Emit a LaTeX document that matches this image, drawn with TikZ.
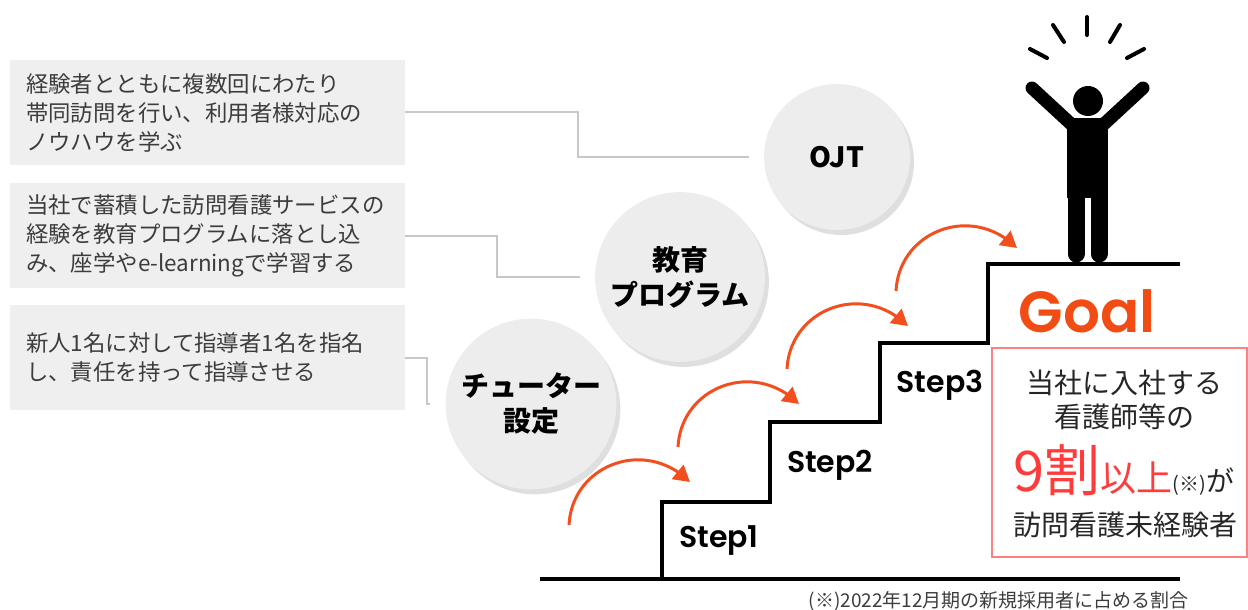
\documentclass[tikz,border=0pt]{standalone}
\usepackage{fontspec}
\setmainfont{Noto Sans CJK JP}
\newfontfamily\stepfont{Poppins}[BoldFont={Poppins SemiBold}]
\usepackage{xcolor}
\usetikzlibrary{calc,bending,arrows.meta,shadows}
\tikzset{>=stealth}

\definecolor{boxgray}{HTML}{EFEFEF}
\definecolor{circlegray}{HTML}{EDEDED}
\definecolor{linkgray}{HTML}{C8C8C8}
\definecolor{textgray}{HTML}{3C3C3C}
\definecolor{hopred}{HTML}{F24E1E}
\definecolor{goalred}{HTML}{F04C14}
\definecolor{hired}{HTML}{FF3B3B}
\definecolor{boxred}{HTML}{FF8080}

\tikzset{
  infobox/.style={fill=boxgray, minimum width=197.5pt, minimum height=52.5pt,
    inner xsep=8pt, text width=181.5pt, align=left, text=textgray,
    font=\fontsize{11.2pt}{14.5pt}\selectfont},
  stepcircle/.style={circle, fill=circlegray, minimum size=73pt, align=center,
    drop shadow={opacity=0.25, shadow xshift=2pt, shadow yshift=-2.5pt},
    font=\bfseries\fontsize{14pt}{17.5pt}\selectfont},
  link/.style={draw=linkgray, line width=1pt, shorten >=7.5pt},
  stair/.style={line width=2.4pt, line join=miter},
  hop/.style={line width=1.5pt, hopred, -{Triangle[length=8pt,width=9pt]}},
  steplabel/.style={font=\stepfont\bfseries\fontsize{15pt}{15pt}\selectfont},
  redtext/.style={font=\fontsize{14pt}{14pt}\selectfont, text=black!85}
}

\begin{document}
\begin{tikzpicture}[x=0.5pt,y=-0.5pt]
  \useasboundingbox (0,0) rectangle (1248,610);

  % boxes on the left
  \node[infobox] at (207.5,112.5) (b1) {経験者とともに複数回にわたり\\帯同訪問を行い、利用者様対応の\\ノウハウを学ぶ};
  \node[infobox] at (207.5,235.5) (b2) {当社で蓄積した訪問看護サービスの\\経験を教育プログラムに落とし込\\み、座学やe-learningで学習する};
  \node[infobox] at (207.5,357.5) (b3) {新人1名に対して指導者1名を指名\\し、責任を持って指導させる};

  % circles
  \node[stepcircle] at (837,157) (c1) {OJT};
  \node[stepcircle] at (680,277) (c2) {教育\\プログラム};
  \node[stepcircle] at (531,404) (c3) {チューター\\設定};

  \draw[link] (b1.east) -- ++(173,0) |- (c1.west);
  \draw[link] (b2.east) -- ++(92,0) |- (c2.west);
  \draw[link] (b3.east) -- ++(22,0) |- (c3.west);

  % stairs
  \draw[stair] (540,579) -- (1180,579);
  \draw[stair] (662,579) |- (770,502) |- (880,422) |- (988,343) |- (1180,264);
  \node[steplabel] at (719,541) (s1) {Step1};
  \node[steplabel] at (830,465) (s2) {Step2};
  \node[steplabel] at (940,385) (s3) {Step3};

  % hops
  \foreach \i in {0,1,2,3}
    \draw[hop, shift={(\i*109,-\i*78)}] (569,525) .. controls (572,465) and (645,437) .. (690,482);

  % person on top
  \fill (1088,101) circle[radius=15];
  \draw[line width=6.5pt, line cap=round] (1032,88) -- (1071,124);
  \draw[line width=6.5pt, line cap=round] (1143,88) -- (1104,124);
  \fill (1067,118) rectangle (1108,198);
  \draw[line width=8.5pt, line cap=round] (1076,195) -- (1076,254);
  \draw[line width=8.5pt, line cap=round] (1099,195) -- (1099,254);
  \draw[line width=2pt, line cap=round] (1087,17) -- (1087,35);
  \draw[line width=2pt, line cap=round] (1053,25) -- (1064,42);
  \draw[line width=2pt, line cap=round] (1120,25) -- (1110,42);
  \draw[line width=2pt, line cap=round] (1030,49) -- (1047,58);
  \draw[line width=2pt, line cap=round] (1144,49) -- (1127,58);

  % goal
  \node[font=\stepfont\bfseries\fontsize{29pt}{29pt}\selectfont, text=goalred] at (1087,311) (g) {Goal};
  \draw[boxred, line width=0.7pt] (992,348) rectangle (1247,557);
  \node[redtext] at (1124,383) (r1) {当社に入社する};
  \node[redtext] at (1124,417) (r2) {看護師等の};
  \node[redtext, anchor=base] at (1124,491) (r3) {{\color{hired}\fontsize{28pt}{28pt}\selectfont 9割\fontsize{18pt}{18pt}\selectfont 以上}{\fontsize{10pt}{10pt}\selectfont (※)}が};
  \node[redtext] at (1125,525) (r4) {訪問看護未経験者};

  \node[anchor=east, text=textgray, font=\fontsize{9.5pt}{9.5pt}\selectfont] at (1196,601) (fn) {(※)2022年12月期の新規採用者に占める割合};
\end{tikzpicture}
\end{document}
